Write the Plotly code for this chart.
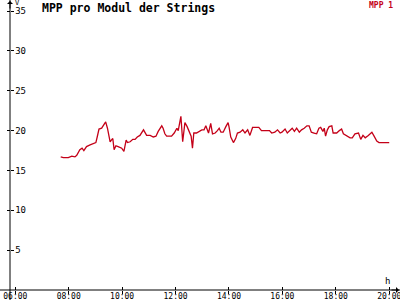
import plotly.graph_objects as go

DAY = "2024-06-01 "
times = ["07:42","07:48","07:59","08:07","08:14","08:18","08:25","08:30","08:34","08:40",
         "08:48","08:55","09:01","09:04","09:08","09:14","09:18","09:23","09:27","09:30",
         "09:33","09:37","09:39","09:42","09:46","09:51","09:59","10:04","10:09","10:12",
         "10:18","10:24","10:29","10:34","10:40","10:48","10:55","11:03","11:10","11:16",
         "11:21","11:29","11:32","11:36","11:40","11:44","11:51","11:57","12:03","12:06",
         "12:10","12:12","12:16","12:21","12:26","12:31","12:35","12:38","12:41","12:47",
         "12:53","12:59","13:04","13:08","13:14","13:19","13:23","13:29","13:34","13:38",
         "13:42","13:47","13:53","13:58","14:00","14:04","14:10","14:15","14:19","14:25",
         "14:31","14:36","14:42","14:47","14:53","15:01","15:07","15:13","15:23","15:31",
         "15:36","15:43","15:49","15:55","15:59","16:06","16:11","16:17","16:22","16:27",
         "16:32","16:38","16:43","16:49","16:55","17:00","17:05","17:11","17:17","17:22",
         "17:26","17:31","17:34","17:37","17:41","17:45","17:51","17:54","18:02","18:08",
         "18:13","18:17","18:24","18:32","18:37","18:43","18:51","18:56","19:01","19:06",
         "19:13","19:21","19:26","19:32","19:37","20:00"]
values = [16.7,16.6,16.6,16.8,16.7,16.9,17.6,17.8,17.5,18.0,
          18.2,18.4,18.5,19.2,20.2,20.3,20.6,21.1,20.3,19.3,
          18.6,18.9,19.0,17.6,18.1,18.0,17.8,17.4,18.8,18.5,
          18.6,18.9,18.9,19.2,19.4,20.1,19.4,19.4,19.2,19.3,
          19.9,20.6,20.3,19.6,19.3,19.3,19.3,19.7,20.3,20.0,
          21.1,21.8,18.6,21.0,20.5,19.9,19.3,17.8,19.7,19.7,
          19.9,20.1,20.1,20.6,19.7,20.9,19.6,19.7,20.0,20.3,
          19.8,19.8,20.5,21.0,20.5,19.2,18.5,19.0,19.7,19.8,
          20.1,19.7,20.1,19.4,20.4,20.4,20.4,20.0,20.0,20.0,
          19.7,19.8,20.1,19.7,19.8,20.2,19.7,20.1,20.3,19.9,
          20.3,19.8,20.1,20.3,20.6,20.6,19.8,19.7,19.6,20.3,
          20.4,19.9,20.3,19.3,20.1,20.5,20.6,19.7,19.7,20.0,
          20.2,19.6,19.4,19.1,19.1,19.6,19.7,18.9,19.4,19.1,
          19.4,19.8,19.3,18.7,18.5,18.5]

tick_hours = ["06:00","08:00","10:00","12:00","14:00","16:00","18:00","20:00"]
y_ticks = [5, 10, 15, 20, 25, 30, 35]
x_range = [DAY + "05:25:38", DAY + "20:24:11"]
y_range = [0, 36.39]

LINE = "#c40018"
FONT = "DejaVu Sans Mono"

fig = go.Figure()
fig.add_trace(go.Scatter(x=[DAY + t for t in times], y=values, mode="lines",
                         line=dict(color=LINE, width=1.3), showlegend=False,
                         hoverinfo="skip"))
fig.add_trace(go.Scatter(x=[DAY + times[0]], y=[values[0]], xaxis="x2", yaxis="y2",
                         mode="markers", marker=dict(opacity=0), showlegend=False,
                         hoverinfo="skip"))

tickvals = [DAY + t for t in tick_hours]
fig.update_layout(
    width=400, height=300,
    margin=dict(l=0, r=0, t=0, b=10, autoexpand=False),
    paper_bgcolor="white", plot_bgcolor="white",
    xaxis=dict(range=x_range, type="date", tickvals=tickvals, ticktext=tick_hours,
               ticks="outside", ticklen=3, tickcolor="black", tickwidth=1,
               showgrid=False, zeroline=False, showline=False, automargin=False,
               ticklabeloverflow="allow", ticklabelstandoff=-5,
               tickfont=dict(family=FONT, size=8, color="black")),
    xaxis2=dict(range=x_range, type="date", tickvals=tickvals, overlaying="x",
                anchor="y", side="bottom", automargin=False,
                ticks="inside", ticklen=3, tickcolor="black", tickwidth=1,
                showticklabels=False, showgrid=False, zeroline=False, showline=False),
    yaxis=dict(range=y_range, tickvals=y_ticks, anchor="free", position=0.025,
               ticks="inside", ticklen=3, tickcolor="black", tickwidth=1,
               ticklabelposition="inside", ticklabeloverflow="allow", automargin=False,
               showgrid=False, zeroline=False, showline=False,
               tickfont=dict(family=FONT, size=9, color="black")),
    yaxis2=dict(range=y_range, tickvals=y_ticks, anchor="free", position=0.025,
                overlaying="y", ticks="outside", ticklen=3, tickcolor="black",
                automargin=False,
                showticklabels=False, showgrid=False, zeroline=False, showline=False),
    shapes=[
        dict(type="line", xref="paper", yref="paper", x0=0.025, x1=0.025, y0=-10/290, y1=1,
             line=dict(color="black", width=1)),
        dict(type="line", xref="paper", yref="paper", x0=0, x1=1, y0=0, y1=0,
             line=dict(color="black", width=1)),
    ],
    annotations=[
        dict(text="<b>MPP pro Modul der Strings</b>", xref="paper", yref="paper",
             x=40/400, y=1 - 8/290, xanchor="left", yanchor="middle", showarrow=False,
             font=dict(family=FONT, size=11.5, color="black")),
        dict(text="<b>MPP 1</b>", xref="paper", yref="paper", x=395/400, y=1 - 5/290,
             xanchor="right", yanchor="middle", showarrow=False,
             font=dict(family=FONT, size=8, color=LINE)),
        dict(text="V", xref="paper", yref="paper", x=13/400, y=1 - 3/290,
             xanchor="left", yanchor="middle", showarrow=False,
             font=dict(family=FONT, size=7, color="black")),
        dict(text="h", xref="paper", yref="paper", x=387/400, y=9/290,
             xanchor="center", yanchor="middle", showarrow=False,
             font=dict(family=FONT, size=9, color="black")),
        dict(text="", xref="paper", yref="paper", x=0.025, y=1, ax=0, ay=10,
             showarrow=True, arrowhead=1, arrowsize=1, arrowwidth=1, arrowcolor="black"),
        dict(text="", xref="paper", yref="paper", x=1, y=0, ax=-10, ay=0,
             showarrow=True, arrowhead=1, arrowsize=1, arrowwidth=1, arrowcolor="black"),
    ],
)
fig.write_html("out.html")
